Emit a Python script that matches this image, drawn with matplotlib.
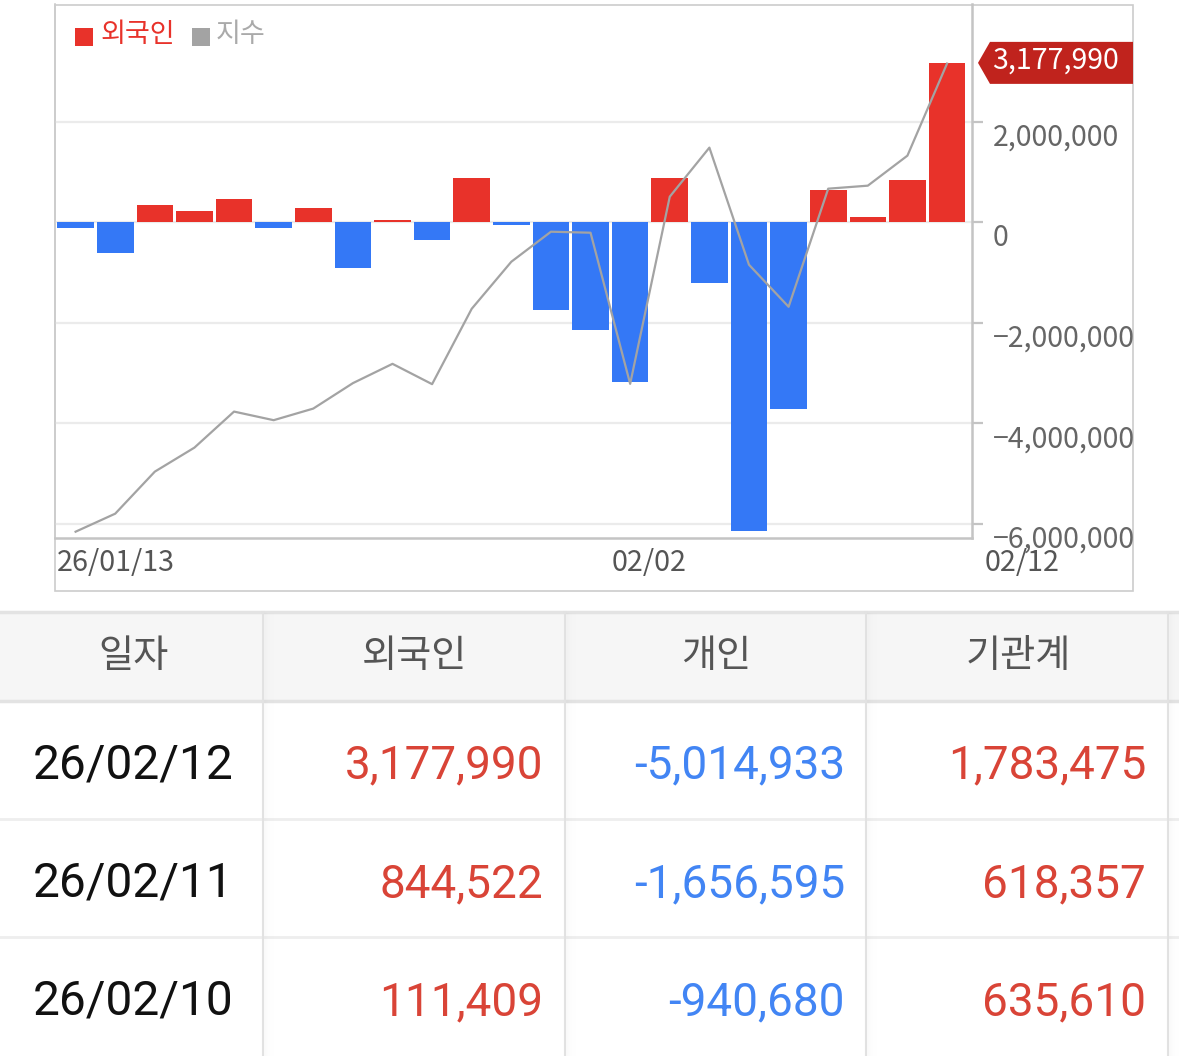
import matplotlib
matplotlib.use("Agg")
import matplotlib.pyplot as plt
from matplotlib.patches import Rectangle, Polygon

# chart data (23 trading days, 26/01/13 - 26/02/12)
days = ['01/13', '01/14', '01/15', '01/16', '01/19', '01/20', '01/21', '01/22', '01/23',
        '01/26', '01/27', '01/28', '01/29', '01/30', '02/02', '02/03', '02/04', '02/05',
        '02/06', '02/09', '02/10', '02/11', '02/12']
foreign_net = [-120000, -600000, 350000, 230000, 470000, -120000, 290000, -900000, 50000,
               -360000, 890000, -60000, -1740000, -2150000, -3170000, 890000, -1200000,
               -6150000, -3710000, 650000, 111409, 844522, 3177990]
index_vals = [912.6, 948.6, 1032.6, 1080.6, 1152.6, 1135.4, 1158.6, 1209.4, 1248.0,
              1207.4, 1358.0, 1452.0, 1512.0, 1510.0, 1208.0, 1582.0, 1680.0, 1446.0,
              1362.0, 1598.0, 1604.0, 1664.0, 1848.0]
y_ticks = [-6000000, -4000000, -2000000, 0, 2000000]
x_label_days = ['26/01/13', '02/02', '02/12']

# table data
col_heads = ['일자', '외국인', '개인', '기관계']
tbl_dates = ['26/02/12', '26/02/11', '26/02/10']
tbl_foreign = [3177990, 844522, 111409]
tbl_indiv = [-5014933, -1656595, -940680]
tbl_inst = [1783475, 618357, 635610]

RED = '#e8322a'
BLUE = '#3478f6'
GRAY_LINE = '#a3a3a3'
KR = ['Noto Sans CJK KR', 'DejaVu Sans']
NUM = ['Roboto', 'DejaVu Sans']

W, H = 1179, 1056
fig = plt.figure(figsize=(W / 100, H / 100), dpi=100)
fig.patch.set_facecolor('white')

# overlay in pixel coords (x right, y down) for box, legend and table
ov = fig.add_axes([0, 0, 1, 1])
ov.set_xlim(0, W)
ov.set_ylim(H, 0)
ov.axis('off')

# outer chart box
ov.add_patch(Rectangle((55, 4.5), 1133 - 55, 591 - 4.5, fill=False, ec='#cccccc', lw=1.2))

# chart axes
l, r, t, b = 55, 972, 4.5, 538
ax = fig.add_axes([l / W, (H - b) / H, (r - l) / W, (b - t) / H])
ax.set_facecolor('none')
x = list(range(len(days)))
colors = [RED if v >= 0 else BLUE for v in foreign_net]
ax.bar(x, foreign_net, width=0.925, color=colors, zorder=3)
ax.set_xlim(-0.52, 22.63)
ax.set_ylim(-6287000, 4341000)
ax.set_yticks(y_ticks)
ax.set_xticks([])
ax.grid(axis='y', color='#ebebeb', lw=1.6, zorder=0)
ax.spines['top'].set_visible(False)
ax.spines['left'].set_color('#cccccc')
ax.spines['left'].set_linewidth(1.2)
ax.spines['bottom'].set_color('#c4c4c4')
ax.spines['bottom'].set_linewidth(1.8)
ax.spines['right'].set_color('#c4c4c4')
ax.spines['right'].set_linewidth(1.8)

# index line on hidden twin axis
ax2 = ax.twinx()
ax2.plot(x, index_vals, color=GRAY_LINE, lw=1.6, zorder=4)
ax2.set_ylim(900, 1966)
ax2.axis('off')

# twinx moves ticks to the left, so set them here
ax.tick_params(axis='y', left=False, right=True, labelleft=False, labelright=False,
               length=8, width=1.6, color='#c4c4c4', direction='out')

for v in y_ticks:
    lbl = f'{v:,}'.replace('-', '\u2212')
    ax.annotate(lbl, xy=(1, v), xycoords=('axes fraction', 'data'),
                xytext=(21, -24), textcoords='offset pixels',
                ha='left', va='baseline', fontsize=20.5, color='#666666', family=KR)

# x labels (left aligned at bar edges, last one beside the axis)
ax.annotate(x_label_days[0], xy=(0 - 0.4625, 0), xycoords=('data', 'axes fraction'),
            xytext=(0, -33), textcoords='offset pixels', ha='left', va='baseline',
            fontsize=20.7, color='#555555', family=KR)
ax.annotate(x_label_days[1], xy=(days.index('02/02') - 0.4625, 0), xycoords=('data', 'axes fraction'),
            xytext=(0, -33), textcoords='offset pixels', ha='left', va='baseline',
            fontsize=20.7, color='#555555', family=KR)
ax.annotate(x_label_days[2], xy=(1, 0), xycoords='axes fraction',
            xytext=(13, -33), textcoords='offset pixels', ha='left', va='baseline',
            fontsize=20.7, color='#555555', family=KR)

# last value tag
fig.canvas.draw()
last = foreign_net[-1]
ty = H - ax.transData.transform((0, last))[1]
th = 21
ov.add_patch(Polygon([(978, ty), (990, ty - th), (1133, ty - th), (1133, ty + th), (990, ty + th)],
                     closed=True, fc='#c0231d', ec='none', zorder=5))
ov.text(992, ty + 6, f'{last:,}', ha='left', va='baseline', fontsize=20.5,
        color='white', family=KR, zorder=6)

# legend
ov.add_patch(Rectangle((75, 28), 17.7, 17.7, fc=RED, ec='none'))
ov.text(100, 35, '외국인', ha='left', va='center', fontsize=19.5, color=RED, family=KR)
ov.add_patch(Rectangle((192, 28), 17.7, 17.7, fc='#a3a3a3', ec='none'))
ov.text(216, 35, '지수', ha='left', va='center', fontsize=19.5, color='#aaaaaa', family=KR)

# table
ov.add_patch(Rectangle((0, 613), W, 87, fc='#f6f6f6', ec='none'))
ov.plot([0, W], [612, 612], color='#e3e3e3', lw=2.5)
ov.plot([0, W], [701, 701], color='#e3e3e3', lw=2.5)
for yy in [819, 937]:
    ov.plot([0, W], [yy, yy], color='#eeeeee', lw=2)
seps = [263, 565, 866, 1168]
for sx in seps:
    ov.plot([sx, sx], [612, H], color='#e2e2e2', lw=1.5)
    for k in range(1, 12):
        ov.plot([sx + k, sx + k], [613, H], color='#000000', alpha=0.012 * (12 - k) / 11, lw=1)

head_x = [133, 415, 716, 1018]
for hx, ht in zip(head_x, col_heads):
    ov.text(hx, 656, ht, ha='center', va='center', fontsize=27.5, color='#555555', family=KR)

row_base = [778, 897, 1015]
right_x = [543, 845, 1146]
RED_T = '#d94437'
BLUE_T = '#4285f4'
for i, yb in enumerate(row_base):
    ov.text(133, yb, tbl_dates[i], ha='center', va='baseline', fontsize=34.5, color='#111111', family=NUM)
    for cx, val in zip(right_x, [tbl_foreign[i], tbl_indiv[i], tbl_inst[i]]):
        ov.text(cx, yb, f'{val:,}', ha='right', va='baseline', fontsize=33,
                color=RED_T if val > 0 else BLUE_T, family=NUM)

fig.savefig('out.png', dpi=100)
